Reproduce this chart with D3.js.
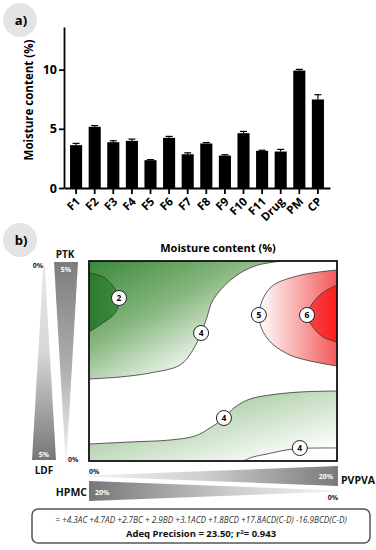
<!DOCTYPE html>
<html>
<head>
<meta charset="utf-8">
<script src="https://cdn.jsdelivr.net/npm/d3@7"></script>
<style>
  body { margin: 0; background: #fff; }
  svg { display: block; font-family: "Open Sans", sans-serif; }
</style>
</head>
<body>
<svg id="chart"></svg>
<script>
// panel a
var categories = ['F1', 'F2', 'F3', 'F4', 'F5', 'F6', 'F7', 'F8', 'F9', 'F10', 'F11', 'Drug', 'PM', 'CP'];
var moisture = [3.62, 5.17, 3.87, 3.98, 2.35, 4.24, 2.85, 3.76, 2.74, 4.63, 3.14, 3.08, 9.92, 7.48];
var errors = [0.15, 0.10, 0.12, 0.15, 0.05, 0.12, 0.12, 0.08, 0.07, 0.15, 0.05, 0.18, 0.10, 0.40];
var yTicks = [0, 5, 10];

// panel b: contour lines, in fractions of the plot area (x left->right, y top->bottom)
var contour2 = [[0, 0.06], [0.065, 0.085], [0.121, 0.185], [0.105, 0.26], [0.056, 0.31], [0, 0.355]];
var contour4Upper = [[0.778, 0], [0.669, 0.025], [0.581, 0.085], [0.5, 0.195], [0.476, 0.28], [0.452, 0.36],
  [0.419, 0.445], [0.367, 0.52], [0.246, 0.56], [0.125, 0.58], [0, 0.59]];
var contour5 = [[1, 0.045], [0.839, 0.075], [0.73, 0.135], [0.685, 0.27], [0.718, 0.385], [0.81, 0.47], [1, 0.525]];
var contour6 = [[1, 0.12], [0.931, 0.17], [0.879, 0.27], [0.903, 0.33], [0.944, 0.38], [1, 0.405]];
var contour4Lower = [[0, 0.915], [0.165, 0.905], [0.327, 0.895], [0.427, 0.875], [0.488, 0.835], [0.544, 0.785],
  [0.589, 0.73], [0.649, 0.69], [0.73, 0.67], [0.851, 0.655], [1, 0.65]];
var contour4Corner = [[0.621, 1], [0.661, 0.98], [0.718, 0.965], [0.823, 0.94], [1, 0.935]];
var contourLabels = [
  { level: '2', x: 0.121, y: 0.185 },
  { level: '4', x: 0.452, y: 0.36 },
  { level: '5', x: 0.685, y: 0.27 },
  { level: '6', x: 0.879, y: 0.27 },
  { level: '4', x: 0.544, y: 0.785 },
  { level: '4', x: 0.85, y: 0.935 }
];
var ldfRange = [0, 5];
var ptkRange = [0, 5];
var hpmcRange = [0, 20];
var pvpvaRange = [0, 20];
var equation = '= +4.3AC +4.7AD +2.7BC + 2.9BD +3.1ACD +1.8BCD +17.8ACD(C-D) -16.9BCD(C-D)';

var svg = d3.select('#chart').attr('width', 376).attr('height', 550);
var defs = svg.append('defs');

// ---------- panel a ----------
var x = d3.scaleBand()
  .domain(categories)
  .range([64, 330])
  .paddingInner(0.35)
  .paddingOuter(0.325);

var y = d3.scaleLinear()
  .domain([0, 13.6])
  .range([188, 27]);

var badge = (cx, cy, label) => {
  svg.append('circle').attr('cx', cx).attr('cy', cy).attr('r', 17).attr('fill', '#e4e4e4');
  svg.append('text').attr('x', cx + 1).attr('y', cy + 5)
    .attr('text-anchor', 'middle').attr('font-size', 13).attr('font-weight', 700)
    .text(label);
};
badge(20, 20, 'a)');

var chart = svg.append('g');

chart.selectAll('.bar')
  .data(categories)
  .enter().append('rect')
    .attr('class', 'bar')
    .attr('x', d => x(d))
    .attr('y', (d, i) => y(moisture[i]))
    .attr('width', x.bandwidth())
    .attr('height', (d, i) => y(0) - y(moisture[i]))
    .attr('fill', '#000');

var err = chart.selectAll('.err')
  .data(categories)
  .enter().append('g')
    .attr('class', 'err')
    .attr('stroke', '#000')
    .attr('stroke-width', 1.2);
err.append('line')
  .attr('x1', d => x(d) + x.bandwidth() / 2)
  .attr('x2', d => x(d) + x.bandwidth() / 2)
  .attr('y1', (d, i) => y(moisture[i]))
  .attr('y2', (d, i) => y(moisture[i] + errors[i]));
err.append('line')
  .attr('x1', d => x(d) + x.bandwidth() / 2 - 3.5)
  .attr('x2', d => x(d) + x.bandwidth() / 2 + 3.5)
  .attr('y1', (d, i) => y(moisture[i] + errors[i]))
  .attr('y2', (d, i) => y(moisture[i] + errors[i]));

var yAxis = chart.append('g')
  .attr('transform', 'translate(64, 0)')
  .call(d3.axisLeft(y).tickValues(yTicks).tickSize(5).tickSizeOuter(0).tickFormat(d3.format('d')));
yAxis.select('.domain').attr('stroke-width', 1.8);
yAxis.selectAll('.tick line').attr('stroke-width', 1.8);
yAxis.selectAll('.tick text')
  .attr('font-family', '"Open Sans", sans-serif')
  .attr('font-size', 12.5).attr('font-weight', 700).attr('x', -7).attr('fill', '#000');

var xAxis = chart.append('g')
  .attr('transform', 'translate(0, 188)')
  .call(d3.axisBottom(x).tickSize(6).tickSizeOuter(0));
xAxis.select('.domain').attr('stroke-width', 1.8);
xAxis.selectAll('.tick line').attr('stroke-width', 1.8);
xAxis.selectAll('.tick text').remove();

// rotated category labels, each in its own positioned group
chart.selectAll('.xlabel')
  .data(categories)
  .enter().append('g')
    .attr('class', 'xlabel')
    .attr('transform', d => 'translate(' + (x(d) + x.bandwidth() / 2 + 1.5) + ',199)')
  .append('text')
    .attr('transform', 'rotate(-45)')
    .attr('text-anchor', 'end')
    .attr('dy', '0.4em')
    .attr('font-size', 11.5).attr('font-weight', 700).attr('fill', '#000')
    .text(d => d);

chart.append('text')
  .attr('transform', 'translate(33, 100) rotate(-90)')
  .attr('text-anchor', 'middle')
  .attr('font-size', 11.5).attr('font-weight', 700)
  .text('Moisture content (%)');

// ---------- panel b ----------
badge(20, 240, 'b)');

svg.append('text')
  .attr('x', 218).attr('y', 252)
  .attr('text-anchor', 'middle')
  .attr('font-size', 11).attr('font-weight', 700)
  .text('Moisture content (%)');

var cx = d3.scaleLinear().domain([0, 1]).range([89, 337]);
var cy = d3.scaleLinear().domain([0, 1]).range([261, 461]);

var line = d3.line()
  .x(d => cx(d[0]))
  .y(d => cy(d[1]))
  .curve(d3.curveCatmullRom.alpha(0.5));

var region = (pts, corners) =>
  line(pts) + corners.map(c => `L${ cx(c[0]) },${ cy(c[1]) }`).join('') + 'Z';

var gradient = (id, stops, attrs) => {
  var g = defs.append('linearGradient').attr('id', id);
  Object.keys(attrs).forEach(k => g.attr(k, attrs[k]));
  stops.forEach(s => g.append('stop').attr('offset', s[0]).attr('stop-color', s[1]));
};

gradient('gUpper', [[0, '#3a893a'], [0.4, '#86b77e'], [0.8, '#ffffff']], { x1: 0, y1: 0, x2: 0.9, y2: 1 });
gradient('g2', [[0, '#2c7a2c'], [1, '#3f8b3f']], { x1: 0, y1: 0, x2: 1, y2: 0 });
gradient('gLower', [[0, '#80b577'], [0.9, '#ffffff']], { x1: 0, y1: 0, x2: 1, y2: 1 });
gradient('g5', [[0, '#ffffff'], [1, '#f45858']],
  { gradientUnits: 'userSpaceOnUse', x1: cx(0.685), y1: 0, x2: cx(1), y2: 0 });
gradient('g6', [[0, '#f44848'], [1, '#ff1c1c']],
  { gradientUnits: 'userSpaceOnUse', x1: cx(0.879), y1: 0, x2: cx(1), y2: 0 });

var plot = svg.append('g');
plot.append('rect')
  .attr('x', cx(0)).attr('y', cy(0))
  .attr('width', cx(1) - cx(0)).attr('height', cy(1) - cy(0))
  .attr('fill', '#fff');

var fills = [
  { pts: contour4Upper, corners: [[0, 0]], fill: 'url(#gUpper)' },
  { pts: contour2, corners: [], fill: 'url(#g2)' },
  { pts: contour4Lower, corners: [[1, 1], [0, 1]], fill: 'url(#gLower)' },
  { pts: contour4Corner, corners: [[1, 1]], fill: '#fff' },
  { pts: contour5, corners: [], fill: 'url(#g5)' },
  { pts: contour6, corners: [], fill: 'url(#g6)' }
];
plot.selectAll('.fill')
  .data(fills)
  .enter().append('path')
    .attr('class', 'fill')
    .attr('d', d => region(d.pts, d.corners))
    .attr('fill', d => d.fill);

plot.selectAll('.contour')
  .data([contour2, contour4Upper, contour5, contour6, contour4Lower, contour4Corner])
  .enter().append('path')
    .attr('class', 'contour')
    .attr('d', line)
    .attr('fill', 'none')
    .attr('stroke', '#333')
    .attr('stroke-width', 0.8);

plot.append('rect')
  .attr('x', cx(0)).attr('y', cy(0))
  .attr('width', cx(1) - cx(0)).attr('height', cy(1) - cy(0))
  .attr('fill', 'none').attr('stroke', '#111').attr('stroke-width', 1.8);

var lab = plot.selectAll('.lab')
  .data(contourLabels)
  .enter().append('g')
    .attr('class', 'lab')
    .attr('transform', d => `translate(${ cx(d.x) }, ${ cy(d.y) })`);
lab.append('circle').attr('r', 7.5).attr('fill', '#fff').attr('stroke', '#222').attr('stroke-width', 1);
lab.append('text').attr('text-anchor', 'middle').attr('dy', '0.35em')
  .attr('font-size', 8.5).attr('font-weight', 700).text(d => d.level);

// component wedges
gradient('gLDF', [[0, '#e6e6e6'], [0.45, '#d8d8d8'], [1, '#767676']], { x1: 0, y1: 0, x2: 0, y2: 1 });
gradient('gPTK', [[0, '#7d7d7d'], [0.55, '#b0b0b0'], [1, '#f4f4f4']], { x1: 0, y1: 0, x2: 0, y2: 1 });
gradient('gHPMC', [[0, '#767676'], [0.6, '#d0d0d0'], [1, '#f4f4f4']], { x1: 0, y1: 0, x2: 1, y2: 0 });
gradient('gPVPVA', [[0, '#f2f2f2'], [0.45, '#d0d0d0'], [1, '#7a7a7a']], { x1: 0, y1: 0, x2: 1, y2: 0 });

var vPos = d3.scaleLinear().domain([0, 1]).range([262, 460]);
var hPos = d3.scaleLinear().domain([0, 1]).range([89, 338]);
var wSmall = d3.scaleLinear().domain(ldfRange).range([1, 24]);
var wLarge = d3.scaleLinear().domain(hpmcRange).range([1, 20]);

var vWedge = (centre, r, flip) => {
  var top = flip ? r[1] : r[0];
  var bot = flip ? r[0] : r[1];
  return [[centre - wSmall(top) / 2, vPos(0)], [centre + wSmall(top) / 2, vPos(0)],
    [centre + wSmall(bot) / 2, vPos(1)], [centre - wSmall(bot) / 2, vPos(1)]];
};
var hWedge = (centre, r, flip) => {
  var left = flip ? r[1] : r[0];
  var right = flip ? r[0] : r[1];
  return [[hPos(0), centre - wLarge(left) / 2], [hPos(1), centre - wLarge(right) / 2],
    [hPos(1), centre + wLarge(right) / 2], [hPos(0), centre + wLarge(left) / 2]];
};

var wedges = [
  { pts: vWedge(44, ldfRange, false), fill: 'url(#gLDF)' },
  { pts: vWedge(66, ptkRange, true), fill: 'url(#gPTK)' },
  { pts: hWedge(476, pvpvaRange, false), fill: 'url(#gPVPVA)' },
  { pts: hWedge(491, hpmcRange, true), fill: 'url(#gHPMC)' }
];
svg.selectAll('.wedge')
  .data(wedges)
  .enter().append('polygon')
    .attr('class', 'wedge')
    .attr('points', d => d.pts.join(' '))
    .attr('fill', d => d.fill);

var texts = [
  { t: 'PTK', x: 65, y: 258, size: 10, anchor: 'middle', fill: '#111' },
  { t: ptkRange[1] + '%', x: 66, y: 272, size: 7, anchor: 'middle', fill: '#fff' },
  { t: ldfRange[0] + '%', x: 43, y: 268, size: 7, anchor: 'end', fill: '#222' },
  { t: ldfRange[1] + '%', x: 44, y: 457, size: 7, anchor: 'middle', fill: '#fff' },
  { t: ptkRange[0] + '%', x: 68, y: 462, size: 7, anchor: 'start', fill: '#222' },
  { t: 'LDF', x: 44, y: 474, size: 10, anchor: 'middle', fill: '#111' },
  { t: pvpvaRange[0] + '%', x: 89, y: 474, size: 7, anchor: 'start', fill: '#222' },
  { t: pvpvaRange[1] + '%', x: 333, y: 479, size: 7, anchor: 'end', fill: '#fff' },
  { t: 'PVPVA', x: 341, y: 484, size: 10.5, anchor: 'start', fill: '#111' },
  { t: 'HPMC', x: 87, y: 496, size: 10.5, anchor: 'end', fill: '#111' },
  { t: hpmcRange[1] + '%', x: 95, y: 495, size: 7, anchor: 'start', fill: '#fff' },
  { t: hpmcRange[0] + '%', x: 338, y: 500, size: 7, anchor: 'end', fill: '#222' }
];
svg.selectAll('.lbl')
  .data(texts)
  .enter().append('text')
    .attr('class', 'lbl')
    .attr('x', d => d.x).attr('y', d => d.y)
    .attr('text-anchor', d => d.anchor)
    .attr('font-size', d => d.size)
    .attr('font-weight', 700)
    .attr('fill', d => d.fill)
    .text(d => d.t);

// equation box
svg.append('rect')
  .attr('x', 32).attr('y', 509).attr('width', 338).attr('height', 34)
  .attr('rx', 6).attr('fill', '#fff').attr('stroke', '#555').attr('stroke-width', 1.5);
svg.append('text')
  .attr('x', 201).attr('y', 523).attr('text-anchor', 'middle')
  .attr('font-size', 8.2).attr('font-style', 'italic').attr('fill', '#333')
  .text(equation);
var eq2 = svg.append('text')
  .attr('x', 201).attr('y', 537).attr('text-anchor', 'middle')
  .attr('font-size', 9.5).attr('font-weight', 700).attr('fill', '#111');
eq2.append('tspan').text('Adeq Precision = 23.50; r');
eq2.append('tspan').attr('font-size', 6).attr('dy', -3.5).text('2');
eq2.append('tspan').attr('dy', 3.5).text('= 0.943');
</script>
</body>
</html>
